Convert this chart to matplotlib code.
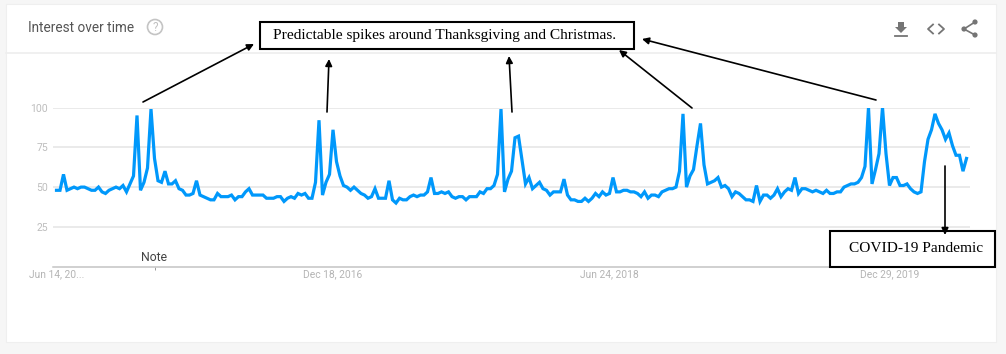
import matplotlib
matplotlib.use('Agg')
import matplotlib.pyplot as plt
from matplotlib.patches import Rectangle, Circle, Polygon

# weekly interest values
interest_1 = [48, 48, 58, 48, 49, 50, 49, 50, 50, 49, 48, 48, 50, 47, 46, 48, 49, 50, 49, 51,
              47, 52, 57, 95, 48, 53, 62, 99, 68, 54, 53, 60, 52, 52, 54, 49, 48, 45, 45, 46,
              54, 45, 44, 43, 42, 42, 46, 44, 44, 44, 45, 42, 44, 44, 47, 49, 45, 45, 45, 45,
              43, 43, 43, 44, 44, 41, 43, 44, 43, 46, 45, 46, 43, 43, 53, 92, 45, 53, 58, 86]
interest_2 = [66, 57, 51, 50, 48, 50, 48, 46, 45, 43, 44, 49, 43, 43, 43, 54, 42, 40, 43, 42,
              42, 44, 45, 44, 45, 45, 47, 56, 46, 46, 47, 46, 47, 44, 43, 44, 44, 42, 44, 44,
              44, 47, 46, 49, 49, 51, 58, 99, 47, 55, 60, 81, 82, 67, 52, 56, 49, 51, 53, 49,
              48, 45, 47, 47, 47, 55, 45, 42, 42, 41, 41, 43, 41, 43, 46, 44, 47, 45, 46, 56]
interest_3 = [47, 47, 48, 48, 47, 47, 46, 44, 47, 43, 45, 45, 44, 47, 48, 49, 49, 50, 60, 96,
              50, 57, 61, 76, 90, 64, 52, 53, 54, 56, 50, 51, 49, 44, 47, 46, 44, 42, 42, 41,
              51, 41, 45, 45, 43, 45, 49, 44, 47, 49, 48, 56, 46, 49, 49, 48, 47, 48, 47, 46,
              48, 46, 46, 47, 47, 50, 51, 52, 52, 53, 56, 63, 100, 52, 61, 71, 100, 71, 51, 56,
              56, 51, 51, 52, 49, 47, 46, 47, 66, 80, 86, 96, 90, 86, 80, 84, 76, 70, 70, 60, 68]
interest = interest_1 + interest_2 + interest_3

y_ticks = [25, 50, 75, 100]
x_tick_pos = [0, 79, 158, 238]
x_tick_labels = ['Jun 14, 20...', 'Dec 18, 2016', 'Jun 24, 2018', 'Dec 29, 2019']
note_pos = 28

W, H = 1006, 354
fig = plt.figure(figsize=(W / 100, H / 100), dpi=100, facecolor='#f6f6f6')

# card behind everything
bg = fig.add_axes([0, 0, 1, 1], zorder=0)
bg.set_xlim(0, W)
bg.set_ylim(H, 0)
bg.axis('off')
bg.add_patch(Rectangle((6, 4), 990, 338, fc='white', ec='#efefef', lw=0.8))
bg.plot([6, 996], [52.5, 52.5], color='#eeeeee', lw=1.2)

# chart, left 53 right 970, y=0 at 266.7 and y=100 at 107.5
ax = fig.add_axes([53 / W, 1 - 266.7 / H, 917 / W, 159.2 / H], zorder=1)
ax.patch.set_alpha(0)
ax.plot(range(len(interest)), interest, color='#0098fb', lw=2.3, solid_joinstyle='miter', zorder=3)
ax.set_xlim(-1, 261)
ax.set_ylim(0, 100)
ax.set_yticks(y_ticks)
ax.set_xticks(x_tick_pos)
ax.set_xticklabels(x_tick_labels)
ax.set_xticks([note_pos], minor=True)
ax.grid(axis='y', color='#e4e4e4', lw=1.1)
ax.set_axisbelow(True)
for s in ['top', 'left', 'right']:
    ax.spines[s].set_visible(False)
ax.spines['bottom'].set_color('#c4c4c4')
ax.spines['bottom'].set_linewidth(1.1)
ax.tick_params(axis='y', length=0, pad=3.5, labelsize=7.5, labelcolor='#bdbdbd')
ax.tick_params(axis='x', which='major', length=0, pad=2, labelsize=7.4, labelcolor='#b4b4b4')
ax.tick_params(axis='x', which='minor', length=2.5, width=0.7, color='#999999')
for lab in ax.get_xticklabels() + ax.get_yticklabels():
    lab.set_family('Roboto')
ax.text(note_pos, 1.6, 'Note', ha='center', va='bottom', fontsize=8.8, color='#444444', family='Roboto')

# overlay in pixel coordinates for header and annotations
top = fig.add_axes([0, 0, 1, 1], zorder=2)
top.set_xlim(0, W)
top.set_ylim(H, 0)
top.axis('off')

top.text(28, 28.5, 'Interest over time', fontsize=9.8, color='#555555', family='Roboto', va='center')
top.add_patch(Circle((155, 27), 7.5, fc='none', ec='#c4c4c4', lw=1.2))
top.text(155, 27.3, '?', fontsize=8.5, color='#c0c0c0', family='Roboto', ha='center', va='center')

# icons
icon = '#757575'
top.add_patch(Polygon([(898, 22), (904, 22), (904, 27), (907, 27), (901, 33), (895, 27), (898, 27)], fc=icon, ec='none'))
top.plot([895, 907], [35.5, 35.5], color=icon, lw=1.3)
top.plot([933, 928, 933], [24.5, 29, 33.5], color=icon, lw=1.3)
top.plot([939, 944, 939], [24.5, 29, 33.5], color=icon, lw=1.3)
top.plot([975, 964, 975], [22, 29, 35], color=icon, lw=1.2)
for cx, cy in [(975, 22), (964, 29), (975, 35)]:
    top.add_patch(Circle((cx, cy), 2.6, fc=icon, ec='none'))

# text boxes
top.add_patch(Rectangle((260.5, 21.5), 374, 27.5, fc='white', ec='black', lw=1.5, zorder=4))
top.text(273, 36, 'Predictable spikes around Thanksgiving and Christmas.', fontsize=11.1,
         family='Liberation Serif', color='black', va='center', zorder=5)
top.add_patch(Rectangle((830.5, 231), 165, 35.5, fc='white', ec='black', lw=1.5, zorder=4))
top.text(849, 248, 'COVID-19 Pandemic', fontsize=11.05, family='Liberation Serif', color='black',
         va='center', zorder=5)

arrows = [((143, 102), (254, 44)),
          ((327, 112), (329, 59)),
          ((512, 112), (509, 56)),
          ((692, 108), (619, 50)),
          ((876, 100), (642, 39)),
          ((945, 166), (945, 235))]
for start, end in arrows:
    top.annotate('', xy=end, xytext=start, zorder=6,
                 arrowprops=dict(arrowstyle='-|>', color='black', lw=1.2, mutation_scale=10,
                                 shrinkA=0, shrinkB=0))

fig.savefig('out.png', dpi=100, facecolor=fig.get_facecolor())
